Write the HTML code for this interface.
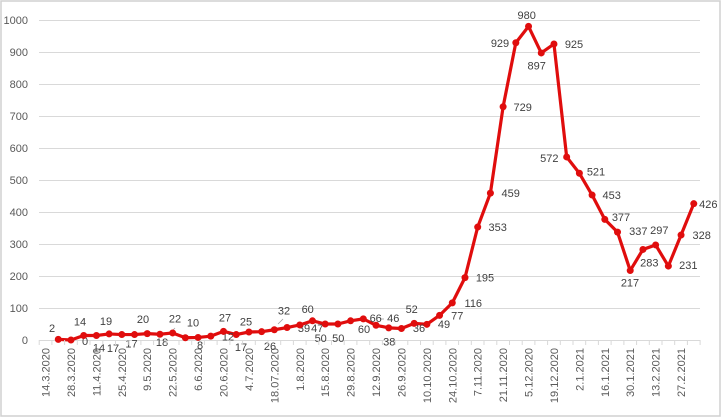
<!DOCTYPE html>
<html><head><meta charset="utf-8"><style>
html,body{margin:0;padding:0;background:#fff;}
svg{display:block;}
text{font-family:"Liberation Sans",sans-serif;}
</style></head><body>
<svg width="722" height="418" viewBox="0 0 722 418" xmlns="http://www.w3.org/2000/svg">
<rect x="1" y="1" width="719" height="415" fill="#fff" stroke="#d0d0d0" stroke-width="1.5"/>
<g stroke="#d9d9d9" stroke-width="1">
<line x1="39" y1="20.5" x2="700" y2="20.5"/>
<line x1="39" y1="52.5" x2="700" y2="52.5"/>
<line x1="39" y1="84.5" x2="700" y2="84.5"/>
<line x1="39" y1="116.5" x2="700" y2="116.5"/>
<line x1="39" y1="148.5" x2="700" y2="148.5"/>
<line x1="39" y1="180.5" x2="700" y2="180.5"/>
<line x1="39" y1="212.5" x2="700" y2="212.5"/>
<line x1="39" y1="244.5" x2="700" y2="244.5"/>
<line x1="39" y1="276.5" x2="700" y2="276.5"/>
<line x1="39" y1="308.5" x2="700" y2="308.5"/>
<line x1="39" y1="340.5" x2="700" y2="340.5"/>
</g>
<g id="ticks" stroke="#d9d9d9" stroke-width="1"></g>
<g font-size="11" fill="#595959" text-anchor="end">
<text x="28" y="24">1000</text>
<text x="28" y="56">900</text>
<text x="28" y="88">800</text>
<text x="28" y="120">700</text>
<text x="28" y="152">600</text>
<text x="28" y="184">500</text>
<text x="28" y="216">400</text>
<text x="28" y="248">300</text>
<text x="28" y="280">200</text>
<text x="28" y="312">100</text>
<text x="28" y="344">0</text>
</g>
<g font-size="11" fill="#595959" text-anchor="end">
<text transform="translate(49.5,348) rotate(-90)">14.3.2020</text>
<text transform="translate(75,348) rotate(-90)">28.3.2020</text>
<text transform="translate(100.4,348) rotate(-90)">11.4.2020</text>
<text transform="translate(125.8,348) rotate(-90)">25.4.2020</text>
<text transform="translate(151.2,348) rotate(-90)">9.5.2020</text>
<text transform="translate(176.7,348) rotate(-90)">22.5.2020</text>
<text transform="translate(202.1,348) rotate(-90)">6.6.2020</text>
<text transform="translate(227.5,348) rotate(-90)">20.6.2020</text>
<text transform="translate(252.9,348) rotate(-90)">4.7.2020</text>
<text transform="translate(278.3,348) rotate(-90)">18.07.2020</text>
<text transform="translate(303.8,348) rotate(-90)">1.8.2020</text>
<text transform="translate(329.2,348) rotate(-90)">15.8.2020</text>
<text transform="translate(354.6,348) rotate(-90)">29.8.2020</text>
<text transform="translate(380,348) rotate(-90)">12.9.2020</text>
<text transform="translate(405.4,348) rotate(-90)">26.9.2020</text>
<text transform="translate(430.9,348) rotate(-90)">10.10.2020</text>
<text transform="translate(456.3,348) rotate(-90)">24.10.2020</text>
<text transform="translate(481.7,348) rotate(-90)">7.11.2020</text>
<text transform="translate(507.1,348) rotate(-90)">21.11.2020</text>
<text transform="translate(532.5,348) rotate(-90)">5.12.2020</text>
<text transform="translate(558,348) rotate(-90)">19.12.2020</text>
<text transform="translate(583.4,348) rotate(-90)">2.1.2021</text>
<text transform="translate(608.8,348) rotate(-90)">16.1.2021</text>
<text transform="translate(634.2,348) rotate(-90)">30.1.2021</text>
<text transform="translate(659.6,348) rotate(-90)">13.2.2021</text>
<text transform="translate(685.1,348) rotate(-90)">27.2.2021</text>
</g>
<polyline fill="none" stroke="#e00d0d" stroke-width="3.2" stroke-linejoin="round" stroke-linecap="round"
points="58.27,339.36 70.98,340 83.69,335.52 96.4,335.52 109.11,333.92 121.82,334.56 134.53,334.56 147.24,333.6 159.95,334.24 172.66,332.96 185.37,337.76 198.08,337.44 210.79,336.16 223.5,331.36 236.21,334.56 248.92,332 261.63,331.68 274.34,329.76 287.05,327.52 299.76,324.96 312.47,320.8 325.18,324 337.89,324 350.6,320.8 363.31,318.88 376.02,325.28 388.73,327.84 401.44,328.48 414.15,323.36 426.86,324.32 439.57,315.36 452.28,302.88 464.99,277.6 477.7,227.04 490.41,193.12 503.12,106.72 515.83,42.72 528.54,26.4 541.25,52.96 553.96,44 566.67,156.96 579.38,173.28 592.09,195.04 604.8,219.36 617.51,232.16 630.22,270.56 642.93,249.44 655.64,244.96 668.35,266.08 681.06,235.04 693.77,203.68"/>
<g id="markers" fill="#e00d0d"></g>
<g stroke="#a0a0a0" stroke-width="0.8">
<line x1="171" y1="332" x2="175" y2="328"/>
<line x1="278" y1="324" x2="283" y2="319"/>
<line x1="380" y1="319" x2="384" y2="319"/>
</g>
<g font-size="11" fill="#404040" text-anchor="middle">
<text x="52" y="332">2</text>
<text x="80" y="325.5">14</text>
<text x="85" y="345">0</text>
<text x="106" y="325">19</text>
<text x="99" y="351.5">14</text>
<text x="113" y="352">17</text>
<text x="131.5" y="347.5">17</text>
<text x="143" y="323">20</text>
<text x="162" y="346">18</text>
<text x="175" y="322.5">22</text>
<text x="193" y="326.5">10</text>
<text x="200" y="349">8</text>
<text x="225" y="321.5">27</text>
<text x="228" y="340.5">12</text>
<text x="241" y="351">17</text>
<text x="246" y="325.5">25</text>
<text x="270" y="350">26</text>
<text x="284" y="314.5">32</text>
<text x="307.7" y="313">60</text>
<text x="304" y="332">39</text>
<text x="317.3" y="332">47</text>
<text x="320.7" y="342">50</text>
<text x="338.3" y="342">50</text>
<text x="364" y="333">60</text>
<text x="375.7" y="322">66</text>
<text x="393.3" y="322">46</text>
<text x="389.3" y="345.5">38</text>
<text x="411.7" y="313">52</text>
<text x="419" y="332">36</text>
<text x="444" y="328">49</text>
<text x="457.3" y="319.5">77</text>
<text x="473.3" y="307">116</text>
<text x="485" y="281.5">195</text>
<text x="497.7" y="231">353</text>
<text x="510.7" y="197">459</text>
<text x="522.7" y="111">729</text>
<text x="500" y="47">929</text>
<text x="526.7" y="19">980</text>
<text x="536.7" y="69.5">897</text>
<text x="574" y="48">925</text>
<text x="549.3" y="162">572</text>
<text x="596" y="175.5">521</text>
<text x="611.7" y="199">453</text>
<text x="621" y="221">377</text>
<text x="638.3" y="235">337</text>
<text x="659.3" y="234">297</text>
<text x="649.3" y="266.5">283</text>
<text x="688.3" y="269">231</text>
<text x="708.3" y="208">426</text>
<text x="701.7" y="239">328</text>
<text x="630" y="286.5">217</text>
</g>
<g fill="#e00d0d">
<circle cx="58.27" cy="339.36" r="3.5"/><circle cx="70.98" cy="340" r="3.5"/><circle cx="83.69" cy="335.52" r="3.5"/><circle cx="96.4" cy="335.52" r="3.5"/><circle cx="109.11" cy="333.92" r="3.5"/><circle cx="121.82" cy="334.56" r="3.5"/><circle cx="134.53" cy="334.56" r="3.5"/><circle cx="147.24" cy="333.6" r="3.5"/><circle cx="159.95" cy="334.24" r="3.5"/><circle cx="172.66" cy="332.96" r="3.5"/><circle cx="185.37" cy="337.76" r="3.5"/><circle cx="198.08" cy="337.44" r="3.5"/><circle cx="210.79" cy="336.16" r="3.5"/><circle cx="223.5" cy="331.36" r="3.5"/><circle cx="236.21" cy="334.56" r="3.5"/><circle cx="248.92" cy="332" r="3.5"/><circle cx="261.63" cy="331.68" r="3.5"/><circle cx="274.34" cy="329.76" r="3.5"/><circle cx="287.05" cy="327.52" r="3.5"/><circle cx="299.76" cy="324.96" r="3.5"/><circle cx="312.47" cy="320.8" r="3.5"/><circle cx="325.18" cy="324" r="3.5"/><circle cx="337.89" cy="324" r="3.5"/><circle cx="350.6" cy="320.8" r="3.5"/><circle cx="363.31" cy="318.88" r="3.5"/><circle cx="376.02" cy="325.28" r="3.5"/><circle cx="388.73" cy="327.84" r="3.5"/><circle cx="401.44" cy="328.48" r="3.5"/><circle cx="414.15" cy="323.36" r="3.5"/><circle cx="426.86" cy="324.32" r="3.5"/><circle cx="439.57" cy="315.36" r="3.5"/><circle cx="452.28" cy="302.88" r="3.5"/><circle cx="464.99" cy="277.6" r="3.5"/><circle cx="477.7" cy="227.04" r="3.5"/><circle cx="490.41" cy="193.12" r="3.5"/><circle cx="503.12" cy="106.72" r="3.5"/><circle cx="515.83" cy="42.72" r="3.5"/><circle cx="528.54" cy="26.4" r="3.5"/><circle cx="541.25" cy="52.96" r="3.5"/><circle cx="553.96" cy="44" r="3.5"/><circle cx="566.67" cy="156.96" r="3.5"/><circle cx="579.38" cy="173.28" r="3.5"/><circle cx="592.09" cy="195.04" r="3.5"/><circle cx="604.8" cy="219.36" r="3.5"/><circle cx="617.51" cy="232.16" r="3.5"/><circle cx="630.22" cy="270.56" r="3.5"/><circle cx="642.93" cy="249.44" r="3.5"/><circle cx="655.64" cy="244.96" r="3.5"/><circle cx="668.35" cy="266.08" r="3.5"/><circle cx="681.06" cy="235.04" r="3.5"/><circle cx="693.77" cy="203.68" r="3.5"/>
</g>
<g stroke="#d9d9d9" stroke-width="1">
<path d="M39.2 340v5M51.9 340v5M64.6 340v5M77.3 340v5M90 340v5M102.8 340v5M115.5 340v5M128.2 340v5M140.9 340v5M153.6 340v5M166.3 340v5M179 340v5M191.7 340v5M204.4 340v5M217.1 340v5M229.9 340v5M242.6 340v5M255.3 340v5M268 340v5M280.7 340v5M293.4 340v5M306.1 340v5M318.8 340v5M331.5 340v5M344.2 340v5M356.9 340v5M369.7 340v5M382.4 340v5M395.1 340v5M407.8 340v5M420.5 340v5M433.2 340v5M445.9 340v5M458.6 340v5M471.3 340v5M484 340v5M496.8 340v5M509.5 340v5M522.2 340v5M534.9 340v5M547.6 340v5M560.3 340v5M573 340v5M585.7 340v5M598.4 340v5M611.1 340v5M623.9 340v5M636.6 340v5M649.3 340v5M662 340v5M674.7 340v5M687.4 340v5M700.1 340v5"/>
</g>
</svg>
</body></html>
